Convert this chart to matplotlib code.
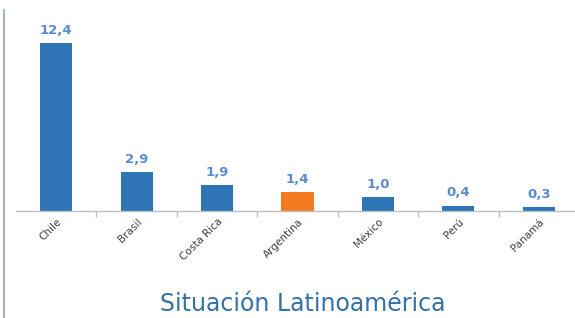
import matplotlib
matplotlib.use("Agg")
import matplotlib.pyplot as plt
from matplotlib.lines import Line2D

# %% data
paises = ["Chile", "Brasil", "Costa Rica", "Argentina", "México", "Perú", "Panamá"]
valores = [12.4, 2.9, 1.9, 1.4, 1.0, 0.4, 0.3]
etiquetas = ["12,4", "2,9", "1,9", "1,4", "1,0", "0,4", "0,3"]
destacado = "Argentina"

azul = "#2E75B6"
naranja = "#F47B20"
colores = [naranja if p == destacado else azul for p in paises]

# %% figure
fig = plt.figure(figsize=(5.75, 3.18), dpi=100)
W, H = 575, 318
ax = fig.add_axes([16 / W, 107 / H, (W - 16) / W, 190 / H])

x = range(len(paises))
ax.bar(x, valores, width=0.4, color=colores, zorder=2)
for xi, v, lab in zip(x, valores, etiquetas):
    ax.text(xi, v + 0.45, lab, ha="center", va="bottom", fontsize=9.5,
            fontweight="bold", color="#5B8BD0", family="DejaVu Sans")

ax.set_xlim(-0.5, 6.45)
ax.set_ylim(0, 14)
ax.set_yticks([])
for s in ["top", "right", "left"]:
    ax.spines[s].set_visible(False)
ax.spines["bottom"].set_color("#BFBFBF")
ax.spines["bottom"].set_linewidth(1)

# category tick marks at the boundaries
ax.set_xticks([i + 0.5 for i in range(len(paises) - 1)], minor=True)
ax.tick_params(axis="x", which="minor", length=4, color="#BFBFBF", width=1)
ax.set_xticks(list(x))
ax.set_xticklabels(paises, rotation=45, ha="right", rotation_mode="anchor",
                   fontsize=7.5, color="#404040", family="DejaVu Sans")
ax.tick_params(axis="x", which="major", length=0, pad=4)

fig.text(303 / W, 1 - 304 / H, "Situación Latinoamérica", ha="center",
         va="center", fontsize=17, color="#3471A6", family="DejaVu Sans")

# left border line
fig.add_artist(Line2D([4 / W, 4 / W], [0, 1 - 10 / H], color="#8FA3B8",
                      linewidth=1.2))

fig.savefig("out.png", dpi=100, facecolor="white")
